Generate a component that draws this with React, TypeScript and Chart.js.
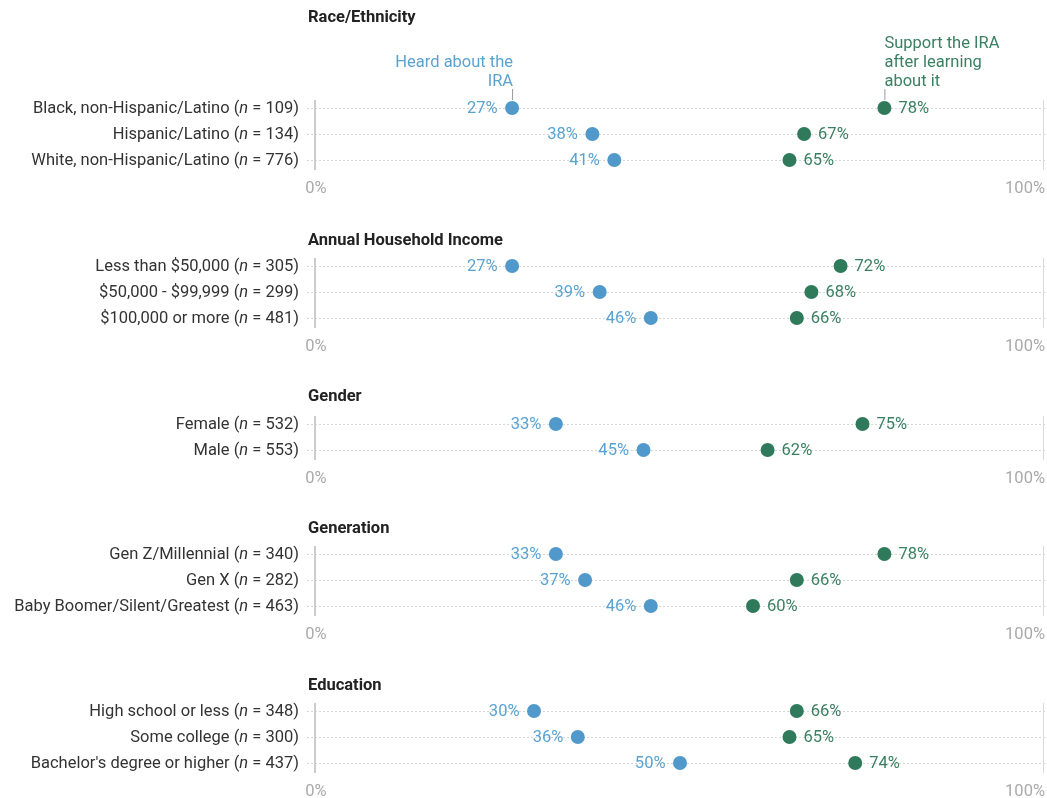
import React, { useEffect, useRef } from "react";
import { Chart, registerables } from "chart.js";

Chart.register(...registerables);

// ---------- data ----------
const panelTitles = ["Race/Ethnicity", "Annual Household Income", "Gender", "Generation", "Education"];

const raceLabels = ["Black, non-Hispanic/Latino", "Hispanic/Latino", "White, non-Hispanic/Latino"];
const raceN = [109, 134, 776];
const raceHeard = [27, 38, 41];
const raceSupport = [78, 67, 65];

const incomeLabels = ["Less than $50,000", "$50,000 - $99,999", "$100,000 or more"];
const incomeN = [305, 299, 481];
const incomeHeard = [27, 39, 46];
const incomeSupport = [72, 68, 66];

const genderLabels = ["Female", "Male"];
const genderN = [532, 553];
const genderHeard = [33, 45];
const genderSupport = [75, 62];

const generationLabels = ["Gen Z/Millennial", "Gen X", "Baby Boomer/Silent/Greatest"];
const generationN = [340, 282, 463];
const generationHeard = [33, 37, 46];
const generationSupport = [78, 66, 60];

const educationLabels = ["High school or less", "Some college", "Bachelor's degree or higher"];
const educationN = [348, 300, 437];
const educationHeard = [30, 36, 50];
const educationSupport = [66, 65, 74];

const xTickValues = [0, 100];
const xTickLabels = ["0%", "100%"];
const heardLegend = ["Heard about the", "IRA"];
const supportLegend = ["Support the IRA", "after learning", "about it"];

// ---------- style ----------
const BLUE = "#5199cb";
const BLUE_TEXT = "#5aa3d1";
const GREEN = "#2e7a5b";
const GREEN_TEXT = "#3a8063";
const FONT = "Roboto, 'Noto Sans', sans-serif";
const FS = 16.5;
const ROW = 26;

type PanelDef = {
  title: string;
  labels: string[];
  n: number[];
  heard: number[];
  support: number[];
  top: number;
  padTop: number;
  titleY: number;
  legend?: boolean;
};

const panels: PanelDef[] = [
  { title: panelTitles[0], labels: raceLabels, n: raceN, heard: raceHeard, support: raceSupport, top: 0, padTop: 95, titleY: 18, legend: true },
  { title: panelTitles[1], labels: incomeLabels, n: incomeN, heard: incomeHeard, support: incomeSupport, top: 228, padTop: 25, titleY: 13 },
  { title: panelTitles[2], labels: genderLabels, n: genderN, heard: genderHeard, support: genderSupport, top: 384, padTop: 27, titleY: 13 },
  { title: panelTitles[3], labels: generationLabels, n: generationN, heard: generationHeard, support: generationSupport, top: 516, padTop: 25, titleY: 13 },
  { title: panelTitles[4], labels: educationLabels, n: educationN, heard: educationHeard, support: educationSupport, top: 673, padTop: 25, titleY: 13 },
];

const PAD_BOTTOM = 28;

function Panel({ def }: { def: PanelDef }) {
  const ref = useRef<HTMLCanvasElement | null>(null);
  const height = def.padTop + def.labels.length * ROW + PAD_BOTTOM;

  useEffect(() => {
    if (!ref.current) return;
    const plugin = {
      id: "dumbbellDeco",
      beforeDatasetsDraw(chart: any) {
        const ctx = chart.ctx;
        const xs = chart.scales.x;
        const ys = chart.scales.y;
        const area = chart.chartArea;
        ctx.save();
        // horizontal dotted row lines
        ctx.strokeStyle = "#d6d6d6";
        ctx.lineWidth = 1;
        ctx.setLineDash([2, 2]);
        def.labels.forEach((_, i) => {
          const y = Math.round(ys.getPixelForValue(i)) + 0.5;
          ctx.beginPath();
          ctx.moveTo(xs.getPixelForValue(0) - 8, y);
          ctx.lineTo(xs.getPixelForValue(100), y);
          ctx.stroke();
        });
        ctx.setLineDash([]);
        // vertical lines at 0 and 100
        xTickValues.forEach((v, k) => {
          const x = xs.getPixelForValue(v) + (k === 0 ? 0 : -1.5);
          ctx.strokeStyle = k === 0 ? "#cccccc" : "#d9d9d9";
          ctx.lineWidth = k === 0 ? 2 : 1;
          ctx.beginPath();
          ctx.moveTo(x, area.top + 5);
          ctx.lineTo(x, area.bottom - 3);
          ctx.stroke();
        });
        ctx.restore();
      },
      afterDatasetsDraw(chart: any) {
        const ctx = chart.ctx;
        const xs = chart.scales.x;
        const ys = chart.scales.y;
        const area = chart.chartArea;
        ctx.save();
        ctx.textBaseline = "middle";
        // title
        ctx.font = `bold ${FS}px ${FONT}`;
        ctx.fillStyle = "#222";
        ctx.textAlign = "left";
        ctx.fillText(def.title, 308, def.titleY);
        // category labels with italic n
        def.labels.forEach((lab, i) => {
          const y = ys.getPixelForValue(i) + 1;
          const a = `${lab} (`;
          const b = "n";
          const c = ` = ${def.n[i]})`;
          ctx.font = `${FS}px ${FONT}`;
          const wa = ctx.measureText(a).width;
          const wc = ctx.measureText(c).width;
          ctx.font = `italic ${FS}px ${FONT}`;
          const wb = ctx.measureText(b).width;
          const right = 299;
          let x = right - (wa + wb + wc);
          ctx.fillStyle = "#333";
          ctx.textAlign = "left";
          ctx.font = `${FS}px ${FONT}`;
          ctx.fillText(a, x, y);
          x += wa;
          ctx.font = `italic ${FS}px ${FONT}`;
          ctx.fillText(b, x, y);
          x += wb;
          ctx.font = `${FS}px ${FONT}`;
          ctx.fillText(c, x, y);
        });
        // value labels
        ctx.font = `${FS}px ${FONT}`;
        const m0 = chart.getDatasetMeta(0);
        const m1 = chart.getDatasetMeta(1);
        m0.data.forEach((p: any, i: number) => {
          ctx.fillStyle = BLUE_TEXT;
          ctx.textAlign = "right";
          ctx.fillText(`${def.heard[i]}%`, p.x - 14.5, p.y + 1);
        });
        m1.data.forEach((p: any, i: number) => {
          ctx.fillStyle = GREEN_TEXT;
          ctx.textAlign = "left";
          ctx.fillText(`${def.support[i]}%`, p.x + 14, p.y + 1);
        });
        // x tick labels
        ctx.fillStyle = "#aaaaaa";
        const ty = area.bottom + 16;
        ctx.textAlign = "center";
        ctx.fillText(xTickLabels[0], xs.getPixelForValue(xTickValues[0]) + 1, ty);
        ctx.textAlign = "right";
        ctx.fillText(xTickLabels[1], xs.getPixelForValue(xTickValues[1]), ty);
        // legend annotations
        if (def.legend) {
          const p0 = m0.data[0];
          const p1 = m1.data[0];
          ctx.fillStyle = BLUE_TEXT;
          ctx.textAlign = "right";
          heardLegend.forEach((t, k) => {
            ctx.fillText(t, p0.x + 1, p0.y - 26 + (k - heardLegend.length + 1) * 19);
          });
          ctx.strokeStyle = "#999";
          ctx.lineWidth = 1;
          ctx.beginPath();
          ctx.moveTo(p0.x + 0.5, p0.y - 19);
          ctx.lineTo(p0.x + 0.5, p0.y - 8);
          ctx.stroke();
          ctx.fillStyle = GREEN_TEXT;
          ctx.textAlign = "left";
          supportLegend.forEach((t, k) => {
            ctx.fillText(t, p1.x, p1.y - 26 + (k - supportLegend.length + 1) * 19);
          });
          ctx.beginPath();
          ctx.moveTo(p1.x + 0.5, p1.y - 19);
          ctx.lineTo(p1.x + 0.5, p1.y - 8);
          ctx.stroke();
        }
        ctx.restore();
      },
    };

    const chart = new Chart(ref.current, {
      type: "scatter",
      data: {
        labels: def.labels,
        datasets: [
          {
            label: "Heard about the IRA",
            data: def.heard.map((v, i) => ({ x: v, y: i })),
            backgroundColor: BLUE,
            borderColor: BLUE,
            pointRadius: 7,
            pointBorderWidth: 0,
          },
          {
            label: "Support the IRA after learning about it",
            data: def.support.map((v, i) => ({ x: v, y: i })),
            backgroundColor: GREEN,
            borderColor: GREEN,
            pointRadius: 7,
            pointBorderWidth: 0,
          },
        ],
      },
      options: {
        animation: false,
        responsive: false,
        maintainAspectRatio: false,
        layout: { autoPadding: false, padding: { left: 315, right: 2, top: def.padTop, bottom: PAD_BOTTOM } },
        plugins: { legend: { display: false }, tooltip: { enabled: false }, title: { display: false } },
        scales: {
          x: { type: "linear", min: 0, max: 100, display: false },
          y: { type: "category", labels: def.labels, offset: true, display: false },
        },
      } as any,
      plugins: [plugin],
    });
    return () => chart.destroy();
  }, [def]);

  return (
    <canvas
      ref={ref}
      width={1047}
      height={height}
      style={{ position: "absolute", left: 0, top: def.top, width: 1047, height }}
    />
  );
}

export default function App() {
  return (
    <div style={{ position: "absolute", left: 0, top: 0, width: 1047, height: 798, background: "#fff", overflow: "hidden" }}>
      {panels.map((p) => (
        <Panel key={p.title} def={p} />
      ))}
    </div>
  );
}
